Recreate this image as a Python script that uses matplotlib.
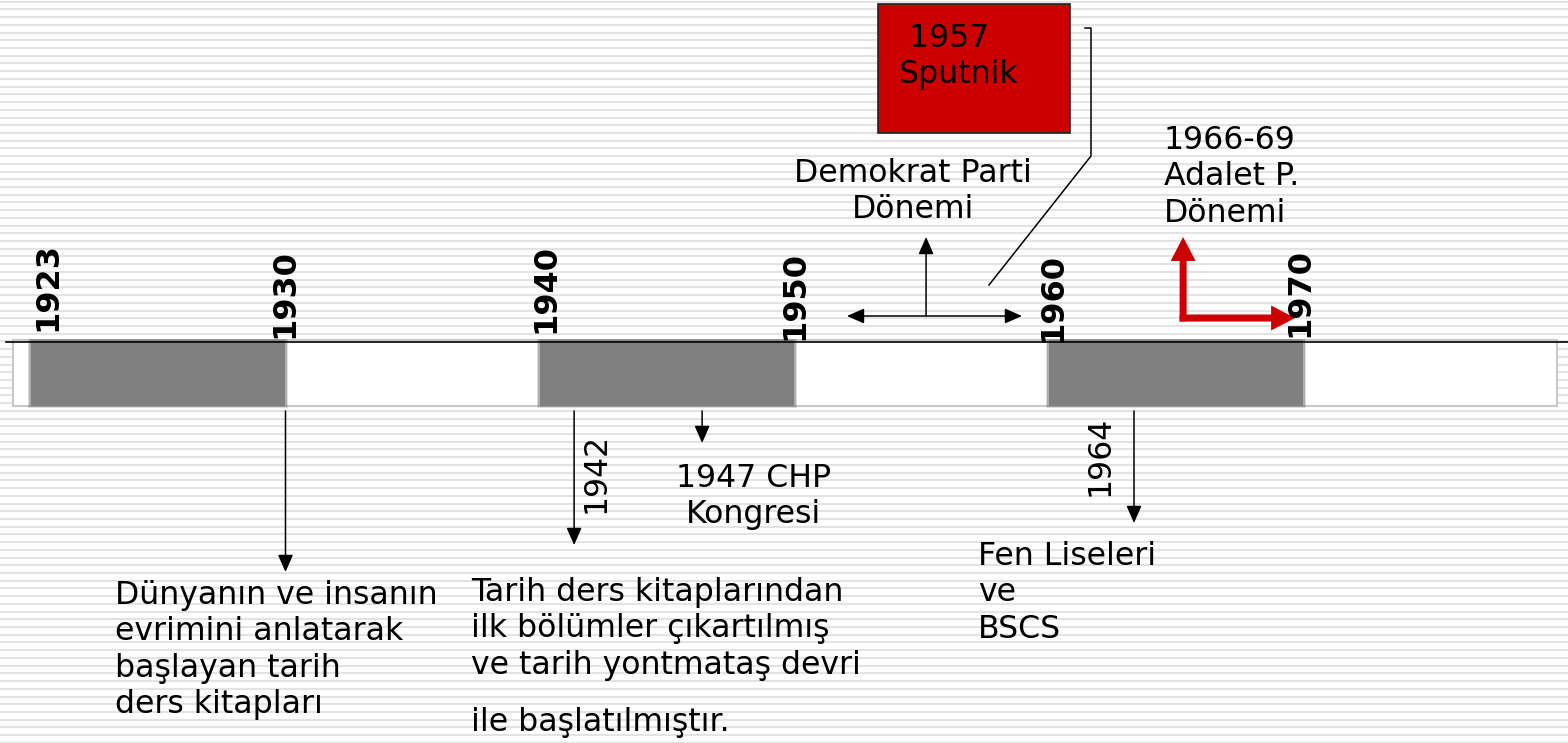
import numpy as np
import matplotlib.pyplot as plt

plt.rcParams['font.family'] = ['DejaVu Sans']

# timeline data (years)
block_starts = [1920, 1940, 1960]
block_len = 10
year_labels = ['1923', '1930', '1940', '1950', '1960', '1970']
year_label_at = [1920.67, 1929.98, 1940.24, 1950.02, 1960.16, 1969.86]
year_label_bottom = [331, 338, 333, 340, 342, 337]

# events below the band: arrow year, arrow end, text
below_arrow_years = [1930, 1941.34, 1946.37, 1963.34]
below_arrow_tips = [572, 545, 443, 523]
below_texts = [
    (115, 580, 'left', 'Dünyanın ve insanın\nevrimini anlatarak\nbaşlayan tarih\nders kitapları'),
    (471, 577, 'left', 'Tarih ders kitaplarından\nilk bölümler çıkartılmış\nve tarih yontmataş devri'),
    (471, 707, 'left', 'ile başlatılmıştır.'),
    (754, 463, 'center', '1947 CHP\nKongresi'),
    (978, 541, 'left', 'Fen Liseleri\nve\nBSCS'),
]
rot_labels = [('1942', 596, 473), ('1964', 1100, 456)]

# periods above the band
dp_span = (1952.06, 1958.94)
dp_mid = 1955.17
ap_span = (1965.27, 1969.67)
future_span = (1976.86, 1980.75)

X0 = 31
PX_PER_YEAR = 25.45


def yx(year):
    return X0 + (year - 1920) * PX_PER_YEAR


fig = plt.figure(figsize=(15.68, 7.43), dpi=100)
ax = fig.add_axes([0, 0, 1, 1])
ax.set_xlim(0, 1568)
ax.set_ylim(743, 0)
ax.axis('off')

# striped background
ax.hlines(np.arange(1.7, 743, 7.72), 0, 1568, colors='#e3e3e3', lw=1.5, zorder=0)

# band
ax.add_patch(plt.Rectangle((13, 340), 1544, 66, facecolor='white',
                           edgecolor='#c8c8c8', lw=1.5, zorder=1))
for s in block_starts:
    x1, x2 = yx(s), yx(s + block_len)
    for pad, a in [(3, 0.25), (1.5, 0.5)]:
        ax.add_patch(plt.Rectangle((x1 - pad, 340 - pad / 2), x2 - x1 + 2 * pad, 66 + pad,
                                   facecolor='#808080', alpha=a, lw=0, zorder=2))
    ax.add_patch(plt.Rectangle((x1, 340), x2 - x1, 66, facecolor='#808080', lw=0, zorder=2))
ax.plot([6, 1568], [342, 342], color='black', lw=1.2, zorder=3)

for lab, yr, yb in zip(year_labels, year_label_at, year_label_bottom):
    ax.text(yx(yr), yb, lab, rotation=90, ha='center', va='bottom',
            fontsize=23, fontweight='bold', zorder=4)

black = dict(arrowstyle='-|>,head_length=0.75,head_width=0.33', color='black',
             lw=1.1, mutation_scale=14, shrinkA=0, shrinkB=0)

# arrows below band
for yr, tip in zip(below_arrow_years, below_arrow_tips):
    ax.annotate('', xy=(yx(yr), tip), xytext=(yx(yr), 411), arrowprops=black)

for x, y, ha, t in below_texts:
    ax.text(x, y, t, ha=ha, va='top', fontsize=22.7, linespacing=1.22)
for t, x, y in rot_labels:
    ax.text(x, y, t, rotation=90, ha='center', va='center', fontsize=22.7)

# Demokrat Parti period
dp = dict(black, arrowstyle='<|-|>,head_length=0.75,head_width=0.33')
ax.annotate('', xy=(yx(dp_span[1]), 316), xytext=(yx(dp_span[0]), 316), arrowprops=dp)
ax.annotate('', xy=(yx(dp_mid), 237), xytext=(yx(dp_mid), 316), arrowprops=black)
ax.text(913, 158, 'Demokrat Parti\nDönemi', ha='center', va='top', fontsize=22.7,
        linespacing=1.22)

# Sputnik box
ax.add_patch(plt.Rectangle((878, 4), 192, 129, facecolor='#cc0000',
                           edgecolor='#222222', lw=1.2, zorder=2))
ax.text(899, 23, ' 1957\nSputnik', ha='left', va='top', fontsize=22.7,
        linespacing=1.22, zorder=3)
ax.plot([1085, 1091, 1091, 989], [28, 28, 156, 285], color='black', lw=1.1)

# Adalet Partisi period
x_ap = yx(ap_span[0])
ax.arrow(x_ap, 321.5, 0, 237 - 321.5, width=7, head_width=25, head_length=24,
         length_includes_head=True, color='#cc0000', lw=0, zorder=3)
ax.arrow(x_ap - 3.5, 318, yx(ap_span[1]) - x_ap + 3.5, 0, width=7, head_width=25,
         head_length=24, length_includes_head=True, color='#cc0000', lw=0, zorder=3)
ax.text(1164, 125, '1966-69\nAdalet P.\nDönemi', ha='left', va='top', fontsize=22.7,
        linespacing=1.22)

ax.annotate('', xy=(yx(future_span[1]), 318), xytext=(yx(future_span[0]), 318),
            arrowprops=black)

fig.savefig('out.png', dpi=100)
